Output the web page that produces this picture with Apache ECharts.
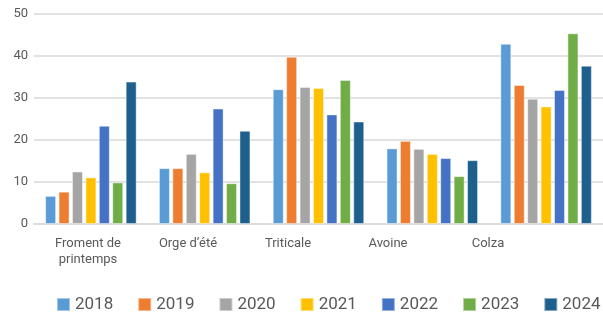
<!DOCTYPE html>
<html>
<head>
<meta charset="utf-8">
<script src="https://cdn.jsdelivr.net/npm/echarts@6/dist/echarts.min.js"></script>
<style>
  html, body { margin: 0; padding: 0; background: #fff; }
  #chart { width: 603px; height: 312px; }
</style>
</head>
<body>
<div id="chart"></div>
<script>
const categories = ['Froment de\nprintemps', 'Orge d\u2019été', 'Triticale', 'Avoine', 'Colza'];
const years = ['2018', '2019', '2020', '2021', '2022', '2023', '2024'];
const yTicks = [0, 10, 20, 30, 40, 50];

const v2018 = [6.7, 13.3, 32.1, 18.0, 42.9];
const v2019 = [7.7, 13.3, 39.8, 19.8, 33.1];
const v2020 = [12.5, 16.7, 32.6, 17.9, 29.8];
const v2021 = [11.1, 12.3, 32.4, 16.7, 28.0];
const v2022 = [23.4, 27.5, 26.1, 15.7, 31.9];
const v2023 = [9.9, 9.7, 34.3, 11.4, 45.4];
const v2024 = [33.9, 22.2, 24.4, 15.2, 37.7];

const seriesValues = [v2018, v2019, v2020, v2021, v2022, v2023, v2024];
const colors = ['#5b9bd5', '#ed7d31', '#a5a5a5', '#ffc000', '#4472c4', '#70ad47', '#1f5f8e'];

const textColor = '#595959';
const font = 'Roboto';

const chart = echarts.init(document.getElementById('chart'));

const option = {
    animation: false,
    color: colors,
    grid: [
        { left: 34, right: 0, top: 14, bottom: 88 },
        // labels sit on a narrower band than the bar groups
        { left: 38, width: 500, top: 14, bottom: 88 }
    ],
    legend: {
        left: 56,
        top: 296,
        padding: 0,
        itemWidth: 13,
        itemHeight: 13,
        itemGap: 24,
        icon: 'rect',
        textStyle: { fontFamily: font, fontSize: 17, color: textColor },
        data: years
    },
    xAxis: [{
        type: 'category',
        gridIndex: 0,
        data: categories,
        axisLine: { lineStyle: { color: '#d9d9d9', width: 1.5 } },
        axisTick: { show: false },
        axisLabel: { show: false }
    }, {
        type: 'category',
        gridIndex: 1,
        data: categories,
        axisLine: { show: false },
        axisTick: { show: false },
        axisLabel: {
            margin: 12,
            fontFamily: font,
            fontSize: 13,
            lineHeight: 16,
            color: textColor
        }
    }],
    yAxis: [{
        type: 'value',
        gridIndex: 0,
        min: yTicks[0],
        max: yTicks[yTicks.length - 1],
        interval: 10,
        axisLine: { show: false },
        axisTick: { show: false },
        splitLine: { lineStyle: { color: '#d9d9d9', width: 1.5 } },
        axisLabel: { margin: 6, fontFamily: font, fontSize: 13, color: textColor }
    }, {
        type: 'value',
        gridIndex: 1,
        show: false
    }],
    series: years.map((y, i) => ({
        name: y,
        type: 'bar',
        xAxisIndex: 0,
        yAxisIndex: 0,
        barWidth: 11,
        barGap: '22%',
        itemStyle: { borderColor: 'rgba(255,255,255,0.45)', borderWidth: 1 },
        data: seriesValues[i]
    }))
};

chart.setOption(option);
</script>
</body>
</html>
